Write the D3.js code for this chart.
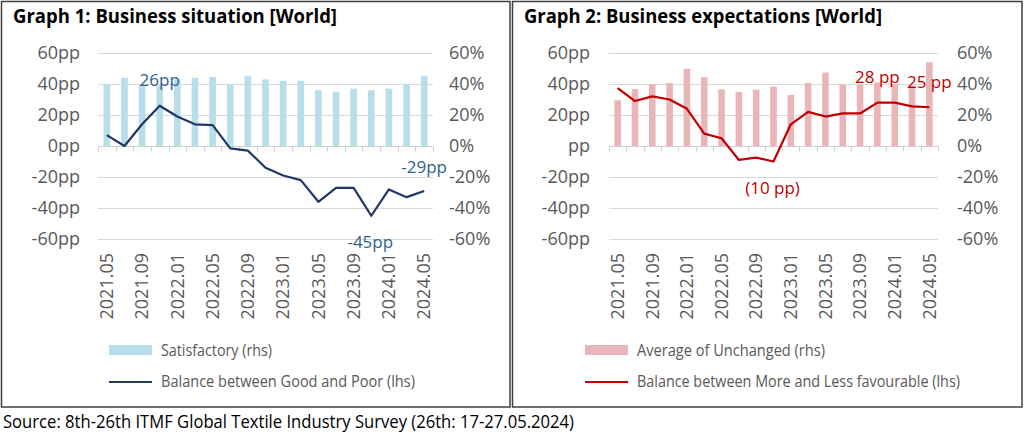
<!DOCTYPE html>
<html><head><meta charset="utf-8">
<script src="https://cdn.jsdelivr.net/npm/d3@7"></script>
<style>
html,body{margin:0;padding:0;background:#fff;}
svg{display:block;font-family:"Open Sans",sans-serif;}
</style></head>
<body>
<svg id="chart" width="1024" height="435"></svg>
<script>
// ---- data ----
const categories = ["2021.05","2021.07","2021.09","2021.11","2022.01","2022.03","2022.05","2022.07","2022.09","2022.11",
  "2023.01","2023.03","2023.05","2023.07","2023.09","2023.11","2024.01","2024.03","2024.05"];
const tickLabels = ["2021.05","2021.09","2022.01","2022.05","2022.09","2023.01","2023.05","2023.09","2024.01","2024.05"];
const yTicks = [-60,-40,-20,0,20,40,60];

// Graph 1
const satisfactory = [40,44,39.5,39,43,44,44.5,40,45,43,42,42,36,35,37,36,37,40,45];
const balanceGoodPoor = [7,0,14,26,19,14,13.5,-1.5,-3,-14,-19,-22,-36,-27,-27,-45,-28,-33,-29];
// Graph 2
const unchanged = [29.5,36.7,40,40.6,49.8,44.3,36.5,34.8,36.3,38.3,33,40.6,47.4,39.8,39.5,41,40,39,54];
const balanceMoreLess = [37.4,29,32,30,24,8,5,-9,-7.5,-10,14,22,19,21,21,28,28,25.6,25];

const svg = d3.select("#chart");
svg.append("rect").attr("width",1024).attr("height",435).attr("fill","#fff");

function fit(sel, w){ sel.attr("textLength", w).attr("lengthAdjust","spacingAndGlyphs"); return sel; }

function panel(cfg){
  const g = svg.append("g");
  g.append("rect").attr("x",cfg.bx).attr("y",1.5).attr("width",cfg.bw).attr("height",405.5)
    .attr("fill","none").attr("stroke","#404040").attr("stroke-width",1.5);
  fit(g.append("text").attr("x",cfg.bx+11.5).attr("y",23).attr("font-size",19).attr("font-weight","bold")
    .attr("fill","#000").text(cfg.title), cfg.titleW);

  const x = d3.scaleBand().domain(categories).range([cfg.x0,cfg.x1]).paddingInner(0).paddingOuter(0);
  const y = d3.scaleLinear().domain([-60,60]).range([239,53]);

  // gridlines
  g.append("g").selectAll("line").data(yTicks).join("line")
    .attr("x1",cfg.x0).attr("x2",cfg.x1).attr("y1",d=>Math.round(y(d))+0.5).attr("y2",d=>Math.round(y(d))+0.5)
    .attr("stroke","#d9d9d9").attr("stroke-width",1);

  // left axis labels
  g.append("g").selectAll("text").data(yTicks).join("text")
    .attr("x",cfg.lx).attr("y",d=>y(d)).attr("dy","0.35em").attr("text-anchor","end")
    .attr("font-size",18).attr("fill","#595959").text(cfg.lfmt);
  // right axis labels
  g.append("g").selectAll("text").data(yTicks).join("text")
    .attr("x",cfg.rx).attr("y",d=>y(d)).attr("dy","0.35em").attr("text-anchor","start")
    .attr("font-size",18).attr("fill","#595959").text(d=>d+"%");

  // bars
  const bw = x.step()*0.38;
  g.append("g").selectAll("rect").data(cfg.bars).join("rect")
    .attr("x",(d,i)=>x(categories[i])+x.step()/2-bw/2).attr("width",bw)
    .attr("y",d=>y(d)).attr("height",d=>y(0)-y(d)).attr("fill",cfg.barColor);

  // zero axis with ticks
  const y0 = Math.round(y(0))+0.5;
  g.append("line").attr("x1",cfg.x0).attr("x2",cfg.x1).attr("y1",y0).attr("y2",y0).attr("stroke","#d0d0d0");
  const bounds = categories.map(c=>x(c)).concat([cfg.x1]);
  g.append("g").selectAll("line").data(bounds).join("line")
    .attr("x1",d=>Math.round(d)+0.5).attr("x2",d=>Math.round(d)+0.5).attr("y1",y0).attr("y2",y0+5)
    .attr("stroke","#d0d0d0");

  // x labels
  g.append("g").selectAll("text").data(tickLabels).join("text")
    .attr("transform",d=>`translate(${x(d)+x.step()/2},253) rotate(-90)`)
    .attr("text-anchor","end").attr("dy","0.35em").attr("font-size",18).attr("fill","#595959").text(d=>d);

  // line
  const line = d3.line().x((d,i)=>x(categories[i])+x.step()/2).y(d=>y(d));
  g.append("path").datum(cfg.line).attr("d",line).attr("fill","none")
    .attr("stroke",cfg.lineColor).attr("stroke-width",2.2).attr("stroke-linejoin","round");

  // data labels
  cfg.labels.forEach(l=>{
    const cx = x(categories[l.i])+x.step()/2 + l.dx;
    g.append("text").attr("x",cx).attr("y",y(cfg.line[l.i])+l.dy).attr("text-anchor","middle")
      .attr("font-size",17).attr("fill",cfg.labelColor).text(l.text);
  });

  // legend
  const lg = g.append("g");
  lg.append("rect").attr("x",cfg.legX).attr("y",345).attr("width",43).attr("height",10).attr("fill",cfg.barColor);
  fit(lg.append("text").attr("x",cfg.legX+52).attr("y",355.5).attr("font-size",16).attr("fill","#595959").text(cfg.leg1), cfg.leg1W);
  lg.append("line").attr("x1",cfg.legX).attr("x2",cfg.legX+43).attr("y1",382).attr("y2",382)
    .attr("stroke",cfg.lineColor).attr("stroke-width",2);
  fit(lg.append("text").attr("x",cfg.legX+cfg.leg2dx).attr("y",387).attr("font-size",16).attr("fill","#595959").text(cfg.leg2), cfg.leg2W);
}

panel({
  bx:1.5, bw:508.5, title:"Graph 1: Business situation [World]", titleW:324,
  x0:98, x1:433, lx:80, rx:449,
  lfmt:d=>d+"pp",
  bars:satisfactory, barColor:"#b8dfe9",
  line:balanceGoodPoor, lineColor:"#1f3864", labelColor:"#2f5f8f",
  labels:[{i:3,text:"26pp",dx:0,dy:-20},{i:18,text:"-29pp",dx:0,dy:-18},{i:15,text:"-45pp",dx:-1,dy:32}],
  legX:109, leg1:"Satisfactory (rhs)", leg1W:111, leg2:"Balance between Good and Poor (lhs)", leg2dx:52, leg2W:254
});

panel({
  bx:512.5, bw:509.5, title:"Graph 2: Business expectations [World]", titleW:358,
  x0:609, x1:938, lx:590, rx:957,
  lfmt:d=>d===0?"pp":d+"pp",
  bars:unchanged, barColor:"#e8b5b8",
  line:balanceMoreLess, lineColor:"#c00000", labelColor:"#c00000",
  labels:[{i:15,text:"28 pp",dx:0,dy:-19.5},{i:18,text:"25 pp",dx:0,dy:-19},{i:9,text:"(10 pp)",dx:-1,dy:32.5}],
  legX:585, leg1:"Average of Unchanged (rhs)", leg1W:188, leg2:"Balance between More and Less favourable (lhs)", leg2dx:52, leg2W:323
});

fit(svg.append("text").attr("x",3).attr("y",428).attr("font-size",18).attr("fill","#000")
  .text("Source: 8th-26th ITMF Global Textile Industry Survey (26th: 17-27.05.2024)"), 571);
</script>
</body></html>
